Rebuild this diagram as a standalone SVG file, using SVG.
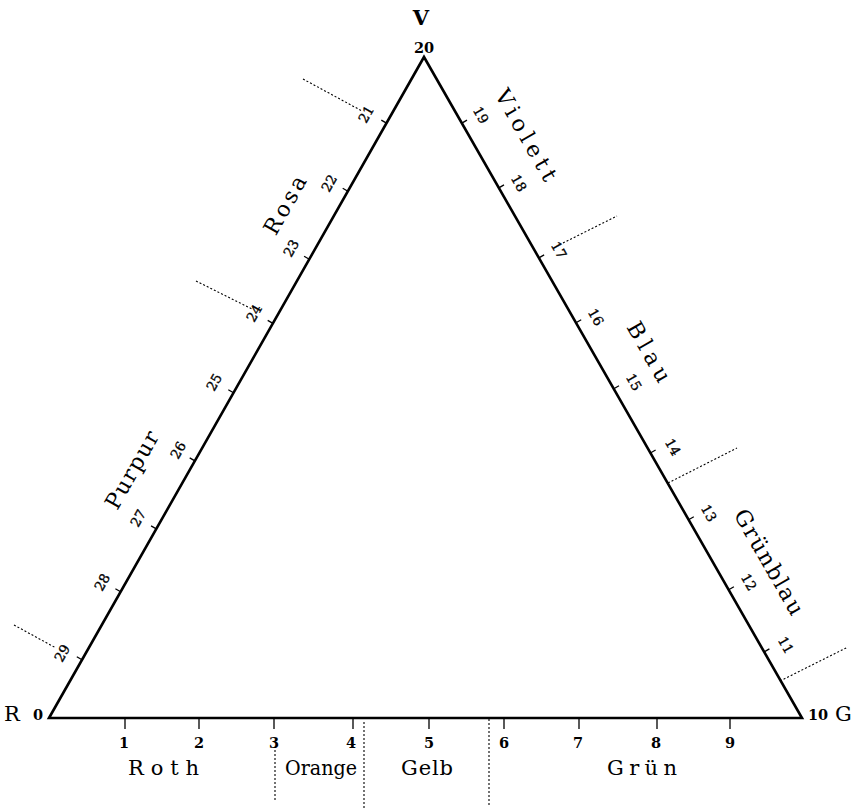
<svg xmlns="http://www.w3.org/2000/svg" width="859" height="812" viewBox="0 0 859 812">
<style>
.edge{fill:none;stroke:#000;stroke-width:2.6;stroke-linejoin:miter}
.tick{stroke:#000;stroke-width:1.3}
.dot{stroke:#000;stroke-width:1.1;stroke-dasharray:2 2;fill:none}
.big{font-family:"DejaVu Serif","Liberation Serif",serif;font-size:21px;fill:#000}
.num{font-family:"DejaVu Serif","Liberation Serif",serif;font-size:14.5px;font-weight:bold;fill:#000;text-anchor:middle}
.sn{font-family:"DejaVu Serif","Liberation Serif",serif;font-size:13.5px;fill:#000;stroke:#000;stroke-width:0.35;text-anchor:middle;dominant-baseline:central}
.lab{font-family:"DejaVu Serif","Liberation Serif",serif;font-size:22px;fill:#000;text-anchor:middle;dominant-baseline:central}
</style>
<rect width="859" height="812" fill="#fff"/>
<g id="triangle">
<polygon class="edge" points="49,718 424,57 802,718"/>
</g>
<g id="vertex-V">
<text class="big" x="421" y="25" text-anchor="middle" font-weight="bold" font-size="22">V</text>
<text class="num" x="424" y="53" font-size="15">20</text>
</g>
<g id="vertex-R">
<text class="big" x="4" y="721">R</text>
<text class="num" x="38" y="720">0</text>
</g>
<g id="vertex-G">
<text class="num" x="818" y="720">10</text>
<text class="big" x="835" y="721">G</text>
</g>
<g id="base-ticks">
<line class="tick" x1="125" y1="718" x2="125" y2="729"/>
<line class="tick" x1="199" y1="718" x2="199" y2="729"/>
<line class="tick" x1="274" y1="718" x2="274" y2="729"/>
<line class="tick" x1="353" y1="718" x2="353" y2="729"/>
<line class="tick" x1="429" y1="718" x2="429" y2="729"/>
<line class="tick" x1="504" y1="718" x2="504" y2="729"/>
<line class="tick" x1="579" y1="718" x2="579" y2="729"/>
<line class="tick" x1="657" y1="718" x2="657" y2="729"/>
<line class="tick" x1="730" y1="718" x2="730" y2="729"/>
<text class="num" x="124" y="748">1</text>
<text class="num" x="199" y="748">2</text>
<text class="num" x="274" y="748">3</text>
<text class="num" x="351" y="748">4</text>
<text class="num" x="429" y="748">5</text>
<text class="num" x="504" y="748">6</text>
<text class="num" x="578" y="748">7</text>
<text class="num" x="656" y="748">8</text>
<text class="num" x="730" y="748">9</text>
</g>
<g id="left-ticks">
<line class="tick" x1="386.5" y1="123.1" x2="381.3" y2="120.1"/>
<line class="tick" x1="347.9" y1="191.2" x2="342.7" y2="188.2"/>
<line class="tick" x1="309.3" y1="259.3" x2="304.1" y2="256.3"/>
<line class="tick" x1="272.9" y1="323.4" x2="267.7" y2="320.4"/>
<line class="tick" x1="233.5" y1="392.8" x2="228.3" y2="389.8"/>
<line class="tick" x1="194.9" y1="460.9" x2="189.7" y2="457.9"/>
<line class="tick" x1="156.3" y1="528.9" x2="151.1" y2="525.9"/>
<line class="tick" x1="120.6" y1="591.7" x2="115.4" y2="588.7"/>
<line class="tick" x1="82.0" y1="659.8" x2="76.8" y2="656.8"/>
<text class="sn" transform="translate(366,114) rotate(-60.4)">21</text>
<text class="sn" transform="translate(329,183) rotate(-60.4)">22</text>
<text class="sn" transform="translate(291,248) rotate(-60.4)">23</text>
<text class="sn" transform="translate(254,313) rotate(-60.4)">24</text>
<text class="sn" transform="translate(214,382) rotate(-60.4)">25</text>
<text class="sn" transform="translate(178,450) rotate(-60.4)">26</text>
<text class="sn" transform="translate(138,518) rotate(-60.4)">27</text>
<text class="sn" transform="translate(102,582) rotate(-60.4)">28</text>
<text class="sn" transform="translate(62,653) rotate(-60.4)">29</text>
</g>
<g id="right-ticks">
<line class="tick" x1="461.8" y1="123.1" x2="467" y2="120.1"/>
<line class="tick" x1="498.8" y1="187.9" x2="504" y2="184.9"/>
<line class="tick" x1="538.9" y1="257.9" x2="544.1" y2="254.9"/>
<line class="tick" x1="576.0" y1="322.7" x2="581.2" y2="319.7"/>
<line class="tick" x1="613.8" y1="388.8" x2="619" y2="385.8"/>
<line class="tick" x1="650.4" y1="453.0" x2="655.6" y2="450"/>
<line class="tick" x1="688.6" y1="519.7" x2="693.8" y2="516.7"/>
<line class="tick" x1="728.7" y1="589.8" x2="733.9" y2="586.8"/>
<line class="tick" x1="764.2" y1="651.9" x2="769.4" y2="648.9"/>
<text class="sn" transform="translate(481,115) rotate(60.2)">19</text>
<text class="sn" transform="translate(519,183) rotate(60.2)">18</text>
<text class="sn" transform="translate(559,250) rotate(60.2)">17</text>
<text class="sn" transform="translate(596,317) rotate(60.2)">16</text>
<text class="sn" transform="translate(634,382) rotate(60.2)">15</text>
<text class="sn" transform="translate(673,447) rotate(60.2)">14</text>
<text class="sn" transform="translate(709,513) rotate(60.2)">13</text>
<text class="sn" transform="translate(749,582) rotate(60.2)">12</text>
<text class="sn" transform="translate(786,645) rotate(60.2)">11</text>
</g>
<g id="dividers">
<line class="dot" x1="303" y1="79" x2="362" y2="111"/>
<line class="dot" x1="196" y1="281" x2="252" y2="309"/>
<line class="dot" x1="14" y1="625" x2="56" y2="648"/>
<line class="dot" x1="563" y1="243" x2="617" y2="216"/>
<line class="dot" x1="668" y1="483" x2="737" y2="448"/>
<line class="dot" x1="780" y1="681" x2="848" y2="647"/>
<line class="dot" x1="275" y1="750" x2="275" y2="802"/>
<line class="dot" x1="364" y1="722" x2="364" y2="808"/>
<line class="dot" x1="489" y1="719" x2="489" y2="806"/>
</g>
<g id="labels">
<text class="big" x="128" y="775" textLength="71" lengthAdjust="spacing">Roth</text>
<text class="big" x="285" y="775" textLength="72" lengthAdjust="spacingAndGlyphs">Orange</text>
<text class="big" x="401" y="775" textLength="52" lengthAdjust="spacing">Gelb</text>
<text class="big" x="607" y="775" textLength="70" lengthAdjust="spacing">Grün</text>
<text class="lab" transform="translate(285,205) rotate(-60.4)" textLength="64" lengthAdjust="spacing">Rosa</text>
<text class="lab" transform="translate(132,470) rotate(-60.4)" textLength="86" lengthAdjust="spacing">Purpur</text>
<text class="lab" transform="translate(526,135) rotate(60.2)" textLength="102" lengthAdjust="spacing">Violett</text>
<text class="lab" transform="translate(649,352) rotate(60.2)" textLength="66" lengthAdjust="spacing">Blau</text>
<text class="lab" transform="translate(769,562) rotate(60.2)" textLength="118" lengthAdjust="spacing">Grünblau</text>
</g>
</svg>
